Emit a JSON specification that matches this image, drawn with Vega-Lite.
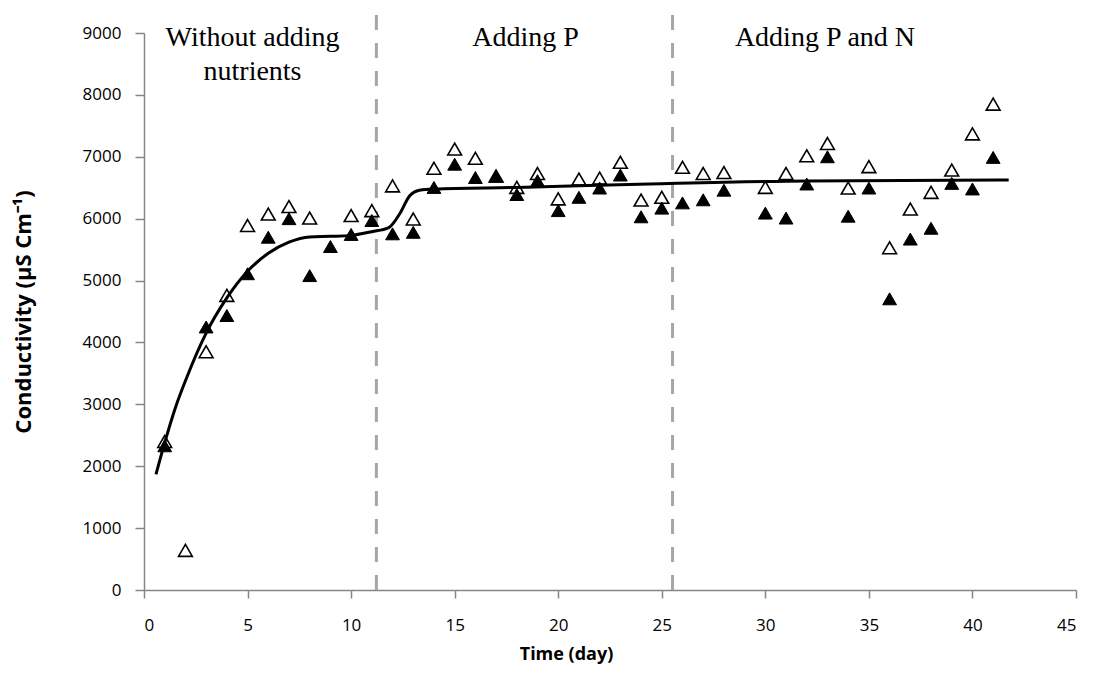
{
  "$schema": "https://vega.github.io/schema/vega-lite/v6.json",
  "autosize": {"type": "none"},
  "padding": {"left": 144, "top": 33, "right": 20, "bottom": 94},
  "width": 932,
  "height": 557,
  "background": "white",
  "config": {"view": {"stroke": null}},
  "datasets": {
    "pts": [
      {"day": 1, "series": "open", "value": 2400}, {"day": 1, "series": "filled", "value": 2330},
      {"day": 2, "series": "open", "value": 640},
      {"day": 3, "series": "open", "value": 3850}, {"day": 3, "series": "filled", "value": 4250},
      {"day": 4, "series": "open", "value": 4760}, {"day": 4, "series": "filled", "value": 4435},
      {"day": 5, "series": "open", "value": 5890}, {"day": 5, "series": "filled", "value": 5110},
      {"day": 6, "series": "open", "value": 6075}, {"day": 6, "series": "filled", "value": 5700},
      {"day": 7, "series": "open", "value": 6195}, {"day": 7, "series": "filled", "value": 6000},
      {"day": 8, "series": "open", "value": 6010}, {"day": 8, "series": "filled", "value": 5080},
      {"day": 9, "series": "filled", "value": 5550},
      {"day": 10, "series": "open", "value": 6050}, {"day": 10, "series": "filled", "value": 5745},
      {"day": 11, "series": "open", "value": 6130}, {"day": 11, "series": "filled", "value": 5970},
      {"day": 12, "series": "open", "value": 6530}, {"day": 12, "series": "filled", "value": 5755},
      {"day": 13, "series": "open", "value": 5995}, {"day": 13, "series": "filled", "value": 5780},
      {"day": 14, "series": "open", "value": 6815}, {"day": 14, "series": "filled", "value": 6505},
      {"day": 15, "series": "open", "value": 7125}, {"day": 15, "series": "filled", "value": 6880},
      {"day": 16, "series": "open", "value": 6975}, {"day": 16, "series": "filled", "value": 6665},
      {"day": 17, "series": "open", "value": 6690}, {"day": 17, "series": "filled", "value": 6685},
      {"day": 18, "series": "open", "value": 6505}, {"day": 18, "series": "filled", "value": 6390},
      {"day": 19, "series": "open", "value": 6730}, {"day": 19, "series": "filled", "value": 6615},
      {"day": 20, "series": "open", "value": 6320}, {"day": 20, "series": "filled", "value": 6130},
      {"day": 21, "series": "open", "value": 6640}, {"day": 21, "series": "filled", "value": 6345},
      {"day": 22, "series": "open", "value": 6655}, {"day": 22, "series": "filled", "value": 6495},
      {"day": 23, "series": "open", "value": 6910}, {"day": 23, "series": "filled", "value": 6705},
      {"day": 24, "series": "open", "value": 6300}, {"day": 24, "series": "filled", "value": 6030},
      {"day": 25, "series": "open", "value": 6345}, {"day": 25, "series": "filled", "value": 6170},
      {"day": 26, "series": "open", "value": 6830}, {"day": 26, "series": "filled", "value": 6255},
      {"day": 27, "series": "open", "value": 6730}, {"day": 27, "series": "filled", "value": 6305},
      {"day": 28, "series": "open", "value": 6745}, {"day": 28, "series": "filled", "value": 6460},
      {"day": 30, "series": "open", "value": 6505}, {"day": 30, "series": "filled", "value": 6090},
      {"day": 31, "series": "open", "value": 6730}, {"day": 31, "series": "filled", "value": 6010},
      {"day": 32, "series": "open", "value": 7015}, {"day": 32, "series": "filled", "value": 6560},
      {"day": 33, "series": "open", "value": 7215}, {"day": 33, "series": "filled", "value": 7000},
      {"day": 34, "series": "open", "value": 6495}, {"day": 34, "series": "filled", "value": 6040},
      {"day": 35, "series": "open", "value": 6840}, {"day": 35, "series": "filled", "value": 6495},
      {"day": 36, "series": "open", "value": 5530}, {"day": 36, "series": "filled", "value": 4705},
      {"day": 37, "series": "open", "value": 6155}, {"day": 37, "series": "filled", "value": 5670},
      {"day": 38, "series": "open", "value": 6425}, {"day": 38, "series": "filled", "value": 5845},
      {"day": 39, "series": "open", "value": 6785}, {"day": 39, "series": "filled", "value": 6570},
      {"day": 40, "series": "open", "value": 7370}, {"day": 40, "series": "filled", "value": 6480},
      {"day": 41, "series": "open", "value": 7850}, {"day": 41, "series": "filled", "value": 6990}
    ],
    "curve": [
      {"day": 0.58, "value": 1870}, {"day": 1.0, "value": 2380}, {"day": 1.5, "value": 2930},
      {"day": 2.06, "value": 3430}, {"day": 3, "value": 4150}, {"day": 4, "value": 4720},
      {"day": 5, "value": 5150}, {"day": 6, "value": 5440}, {"day": 7, "value": 5620},
      {"day": 8, "value": 5705}, {"day": 9, "value": 5715}, {"day": 10, "value": 5730},
      {"day": 11, "value": 5790}, {"day": 11.8, "value": 5850}, {"day": 12.34, "value": 6075},
      {"day": 12.83, "value": 6370}, {"day": 13.3, "value": 6460}, {"day": 14, "value": 6480},
      {"day": 18, "value": 6505}, {"day": 24.4, "value": 6560}, {"day": 32, "value": 6610},
      {"day": 41.75, "value": 6625}
    ],
    "rules": [{"day": 11.22, "lo": 0, "hi": 9350}, {"day": 25.52, "lo": 0, "hi": 9350}],
    "labels": [
      {"day": 5.24, "value": 8790, "text": "Without adding"},
      {"day": 5.24, "value": 8240, "text": "nutrients"},
      {"day": 18.42, "value": 8790, "text": "Adding P"},
      {"day": 32.88, "value": 8790, "text": "Adding P and N"}
    ]
  },
  "encoding": {
    "x": {
      "field": "day", "type": "quantitative",
      "scale": {"domain": [0, 45], "nice": false},
      "axis": {
        "title": "Time (day)", "values": [0, 5, 10, 15, 20, 25, 30, 35, 40, 45],
        "grid": false, "domainColor": "#868686", "tickColor": "#868686", "domainWidth": 1.5, "tickWidth": 1.5,
        "tickSize": 8, "labelPadding": 19, "labelFont": "Open Sans", "labelFontSize": 17, "labelColor": "#000000",
        "titleFont": "Open Sans", "titleFontSize": 18, "titleFontWeight": "bold", "titleColor": "#000000",
        "titleX": 422, "titleY": 55, "titleAlign": "center", "titleBaseline": "top"
      }
    },
    "y": {
      "field": "value", "type": "quantitative",
      "scale": {"domain": [0, 9000], "nice": false},
      "axis": {
        "title": "Conductivity  (µS Cm⁻¹)", "values": [0, 1000, 2000, 3000, 4000, 5000, 6000, 7000, 8000, 9000],
        "format": "d", "grid": false, "domainColor": "#868686", "tickColor": "#868686", "domainWidth": 1.5, "tickWidth": 1.5,
        "tickSize": 9, "labelPadding": 14, "labelFont": "Open Sans", "labelFontSize": 17, "labelColor": "#000000",
        "titleFont": "Open Sans", "titleFontSize": 22, "titleFontWeight": "bold", "titleColor": "#000000", "titlePadding": 47
      }
    }
  },
  "layer": [
    {
      "data": {"name": "rules"},
      "mark": {"type": "rule", "color": "#A6A6A6", "strokeWidth": 3, "strokeDash": [15, 13], "clip": false},
      "encoding": {"y": {"field": "lo", "type": "quantitative"}, "y2": {"field": "hi"}}
    },
    {
      "data": {"name": "pts"},
      "transform": [{"filter": "datum.series === 'open'"}],
      "mark": {"type": "point", "shape": "triangle-up", "filled": true, "fill": "white", "stroke": "black", "strokeWidth": 1.6, "size": 190, "opacity": 1}
    },
    {
      "data": {"name": "pts"},
      "transform": [{"filter": "datum.series === 'filled'"}],
      "mark": {"type": "point", "shape": "triangle-up", "filled": true, "fill": "black", "stroke": "black", "strokeWidth": 1, "size": 190, "opacity": 1}
    },
    {
      "data": {"name": "curve"},
      "mark": {"type": "line", "color": "black", "strokeWidth": 3, "interpolate": "monotone"},
      "encoding": {}
    },
    {
      "data": {"name": "labels"},
      "mark": {"type": "text", "font": "Liberation Serif", "fontSize": 28, "color": "black", "baseline": "alphabetic", "align": "center"},
      "encoding": {"text": {"field": "text"}}
    }
  ]
}
